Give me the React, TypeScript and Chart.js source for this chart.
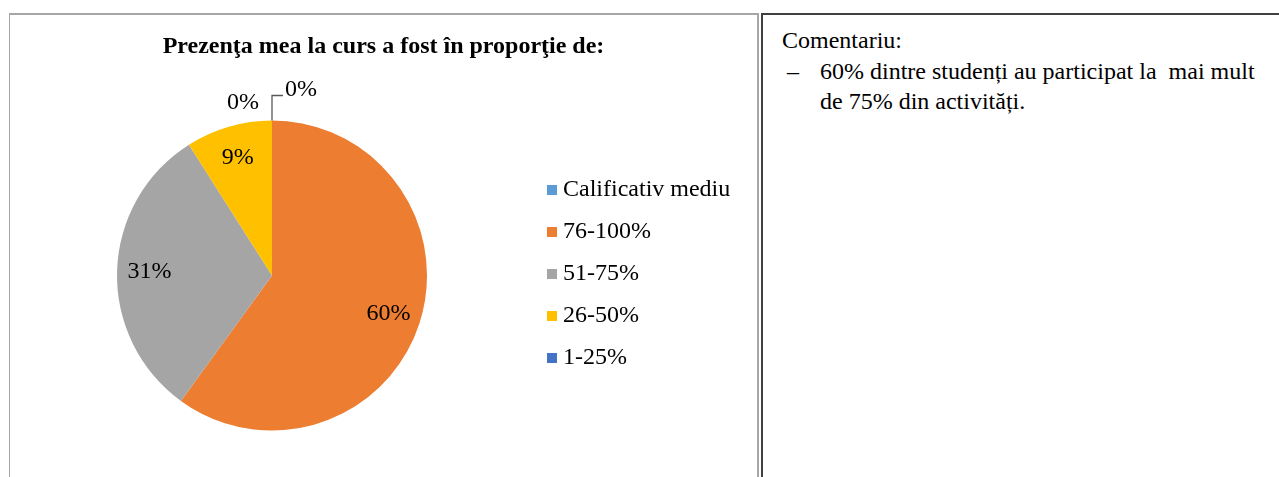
import React, { useEffect, useRef } from "react";
import { Chart, registerables } from "chart.js";

Chart.register(...registerables);

const TITLE = "Prezenţa mea la curs a fost în proporţie de:";
const categories = ["Calificativ mediu", "76-100%", "51-75%", "26-50%", "1-25%"];
const values = [0, 60, 31, 9, 0];
const colors = ["#5B9BD5", "#ED7D31", "#A5A5A5", "#FFC000", "#4472C4"];
const commentTitle = "Comentariu:";
const commentLines = ["60% dintre studenți au participat la  mai mult", "de 75% din activități."];

const FONT = "'Liberation Serif', 'Times New Roman', serif";

const CANVAS_LEFT = 10;
const CANVAS_TOP = 15;
const CANVAS_W = 747;
const CANVAS_H = 462;

const overlayPlugin = {
  id: "overlay",
  afterDraw(chart: any) {
    const ctx = chart.ctx as CanvasRenderingContext2D;
    const meta = chart.getDatasetMeta(0);
    const data = chart.data.datasets[0].data as number[];
    const total = data.reduce((a, b) => a + b, 0);
    ctx.save();
    // title
    ctx.fillStyle = "#000";
    ctx.font = `bold 24px ${FONT}`;
    ctx.textAlign = "center";
    ctx.textBaseline = "middle";
    ctx.fillText(TITLE, CANVAS_W / 2, 47 - CANVAS_TOP);

    // data labels
    ctx.font = `24px ${FONT}`;
    const n = data.length;
    meta.data.forEach((arc: any, i: number) => {
      const p = arc.getProps(["x", "y", "startAngle", "endAngle", "outerRadius"], true);
      const pct = Math.round((data[i] / total) * 100) + "%";
      if (data[i] > 0) {
        const mid = (p.startAngle + p.endAngle) / 2;
        const d = p.outerRadius * 0.79;
        ctx.fillStyle = "#000";
        ctx.textAlign = "center";
        ctx.textBaseline = "middle";
        ctx.fillText(pct, p.x + Math.cos(mid) * d, p.y + Math.sin(mid) * d);
      } else {
        const ax = p.x + Math.cos(p.startAngle) * p.outerRadius;
        const ay = p.y + Math.sin(p.startAngle) * p.outerRadius;
        if (i === 0) {
          ctx.strokeStyle = "#595959";
          ctx.lineWidth = 1.3;
          ctx.beginPath();
          ctx.moveTo(ax, ay);
          ctx.lineTo(ax, ay - 25);
          ctx.lineTo(ax + 11, ay - 25);
          ctx.stroke();
          ctx.fillStyle = "#000";
          ctx.textAlign = "center";
          ctx.textBaseline = "middle";
          ctx.fillText(pct, ax + 29, ay - 31);
        } else if (i === n - 1) {
          ctx.fillStyle = "#000";
          ctx.textAlign = "center";
          ctx.textBaseline = "middle";
          ctx.fillText(pct, ax - 29, ay - 18);
        }
      }
    });

    // legend
    const lx = 547 - CANVAS_LEFT;
    const ly0 = 190 - CANVAS_TOP;
    categories.forEach((c, i) => {
      const y = ly0 + i * 42;
      ctx.fillStyle = colors[i];
      ctx.fillRect(lx, y - 5, 10, 10);
      ctx.fillStyle = "#000";
      ctx.textAlign = "left";
      ctx.textBaseline = "middle";
      ctx.fillText(c, lx + 16, y);
    });
    ctx.restore();
  },
};

function PieChart() {
  const ref = useRef<HTMLCanvasElement | null>(null);
  useEffect(() => {
    if (!ref.current) return;
    const cx = 272 - CANVAS_LEFT;
    const cy = 275.5 - CANVAS_TOP;
    const r = 155;
    const chart = new Chart(ref.current, {
      type: "pie",
      data: {
        labels: categories,
        datasets: [
          {
            data: values,
            backgroundColor: colors,
            borderWidth: 0,
          },
        ],
      },
      options: {
        responsive: false,
        animation: false,
        layout: {
          padding: {
            left: cx - r,
            top: cy - r,
            right: CANVAS_W - (cx + r),
            bottom: CANVAS_H - (cy + r),
          },
        },
        plugins: {
          legend: { display: false },
          title: { display: false },
          tooltip: { enabled: false },
        },
      },
      plugins: [overlayPlugin],
    });
    return () => chart.destroy();
  }, []);
  return (
    <canvas
      ref={ref}
      width={CANVAS_W}
      height={CANVAS_H}
      style={{ position: "absolute", left: CANVAS_LEFT, top: CANVAS_TOP, width: CANVAS_W, height: CANVAS_H }}
    />
  );
}

export default function App() {
  return (
    <div style={{ position: "fixed", left: 0, top: 0, width: 1279, height: 477, background: "#fff", overflow: "hidden" }}>
      {/* left cell borders */}
      <div style={{ position: "absolute", left: 9, top: 13, width: 749, height: 2, background: "#a6a6a6" }} />
      <div style={{ position: "absolute", left: 9, top: 13, width: 1, height: 470, background: "#a6a6a6" }} />
      <div style={{ position: "absolute", left: 757, top: 13, width: 2, height: 470, background: "#a6a6a6" }} />
      {/* right cell borders */}
      <div style={{ position: "absolute", left: 761, top: 13, width: 520, height: 2, background: "#404040" }} />
      <div style={{ position: "absolute", left: 761, top: 13, width: 2, height: 470, background: "#404040" }} />
      <PieChart />
      <div
        style={{
          position: "absolute",
          left: 782,
          top: 25,
          width: 490,
          fontFamily: FONT,
          fontSize: 24,
          lineHeight: "30.5px",
          color: "#000",
          whiteSpace: "pre",
        }}
      >
        <div>{commentTitle}</div>
        <div style={{ display: "flex" }}>
          <span style={{ width: 38, flex: "none", paddingLeft: 5, boxSizing: "border-box" }}>–</span>
          <div>
            {commentLines.map((l, i) => (
              <div key={i}>{l}</div>
            ))}
          </div>
        </div>
      </div>
    </div>
  );
}
